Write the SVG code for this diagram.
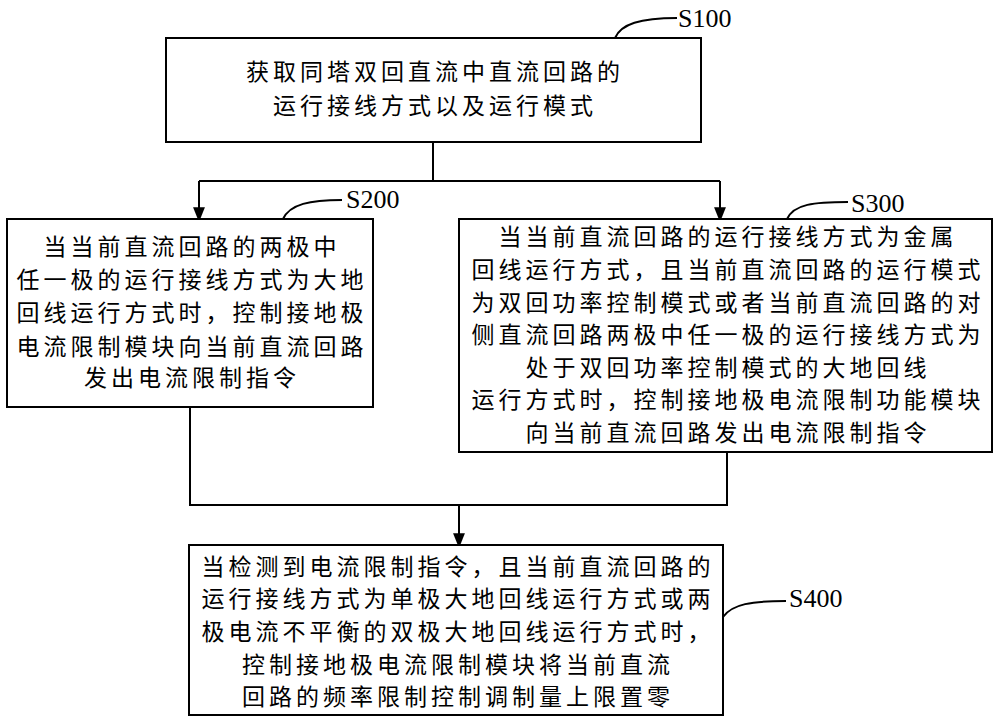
<svg xmlns="http://www.w3.org/2000/svg" width="1000" height="722" viewBox="0 0 1000 722">
<style>
.box{fill:#fff;stroke:#000;stroke-width:2}
.t{font-family:"Noto Sans CJK SC","Noto Sans CJK JP",sans-serif;font-size:23px;letter-spacing:4px;text-anchor:middle;fill:#000}
.lbl{font-family:"Liberation Serif",serif;font-size:26px;fill:#000}
.ln{fill:none;stroke:#000;stroke-width:2}
.lead{fill:none;stroke:#000;stroke-width:2}
</style>
<defs>
<marker id="arr" markerWidth="15" markerHeight="19" refX="15" refY="7.5" orient="auto" markerUnits="userSpaceOnUse" viewBox="0 0 19 15">
<path d="M0,0 L19,7.5 L0,15 Z" fill="#000"/>
</marker>
</defs>
<g id="connectors">
<path class="ln" d="M433,143 V181"/>
<path class="ln" d="M199,181 H720"/>
<path class="ln" d="M199,181 V219" marker-end="url(#arr)"/>
<path class="ln" d="M720,181 V219" marker-end="url(#arr)"/>
<path class="ln" d="M190,407 V505 H727 V452"/>
<path class="ln" d="M459,505 V545" marker-end="url(#arr)"/>
</g>
<g id="S100">
<rect class="box" x="166" y="38" width="535" height="104"/>
<text class="t" x="435" y="80">获取同塔双回直流中直流回路的</text>
<text class="t" x="435" y="114">运行接线方式以及运行模式</text>
<path class="lead" d="M615,38 C621,24 640,18 677,18"/>
<text class="lbl" x="678" y="27">S100</text>
</g>
<g id="S200">
<rect class="box" x="7" y="219" width="366" height="188"/>
<text class="t" x="192" y="255">当当前直流回路的两极中</text>
<text class="t" x="192" y="288">任一极的运行接线方式为大地</text>
<text class="t" x="192" y="321">回线运行方式时，控制接地极</text>
<text class="t" x="192" y="355">电流限制模块向当前直流回路</text>
<text class="t" x="192" y="386">发出电流限制指令</text>
<path class="lead" d="M283,219 C290,204 310,200 342,200"/>
<text class="lbl" x="346" y="208">S200</text>
</g>
<g id="S300">
<rect class="box" x="459" y="219" width="533" height="233"/>
<text class="t" x="728" y="245">当当前直流回路的运行接线方式为金属</text>
<text class="t" x="728" y="278">回线运行方式，且当前直流回路的运行模式</text>
<text class="t" x="728" y="311">为双回功率控制模式或者当前直流回路的对</text>
<text class="t" x="728" y="343">侧直流回路两极中任一极的运行接线方式为</text>
<text class="t" x="728" y="376">处于双回功率控制模式的大地回线</text>
<text class="t" x="728" y="408">运行方式时，控制接地极电流限制功能模块</text>
<text class="t" x="728" y="441">向当前直流回路发出电流限制指令</text>
<path class="lead" d="M787,219 C794,204 814,202 848,202"/>
<text class="lbl" x="851" y="212">S300</text>
</g>
<g id="S400">
<rect class="box" x="189" y="545" width="534" height="170"/>
<text class="t" x="458" y="575">当检测到电流限制指令，且当前直流回路的</text>
<text class="t" x="458" y="607">运行接线方式为单极大地回线运行方式或两</text>
<text class="t" x="458" y="640">极电流不平衡的双极大地回线运行方式时，</text>
<text class="t" x="458" y="673">控制接地极电流限制模块将当前直流</text>
<text class="t" x="458" y="705">回路的频率限制控制调制量上限置零</text>
<path class="lead" d="M723,617 C732,604 752,601 786,601"/>
<text class="lbl" x="789" y="607">S400</text>
</g>
</svg>
